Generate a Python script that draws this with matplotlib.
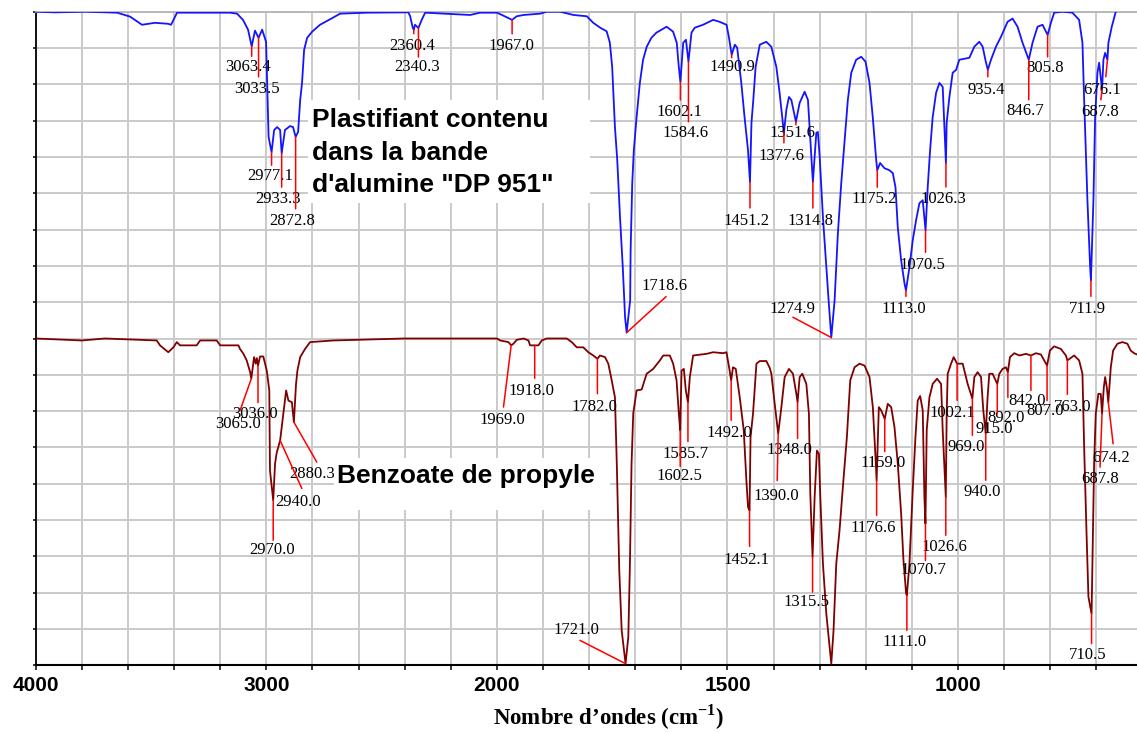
import numpy as np
import matplotlib
matplotlib.use("Agg")
import matplotlib.pyplot as plt
import matplotlib.patches as patches
from matplotlib.ticker import FixedLocator, FixedFormatter

plt.rcParams['mathtext.fontset'] = 'custom'
plt.rcParams['mathtext.rm'] = 'Liberation Serif'
plt.rcParams['mathtext.bf'] = 'Liberation Serif:bold'

# spectre du plastifiant (bande d'alumine DP 951) : nombre d'ondes, transmittance %
blue_wn = [4000, 3916, 3786, 3647, 3591, 3539, 3483, 3426, 3413, 3387, 3287, 3157, 3127, 3101, 3079,
           3063.4, 3049, 3033.5, 3018, 3001, 2990, 2977.1, 2966, 2953, 2940, 2933.3, 2919, 2897, 2884,
           2872.8, 2862, 2853, 2845, 2836, 2823, 2801, 2767, 2710, 2680, 2563, 2420, 2384, 2376, 2365,
           2360.4, 2355, 2340.3, 2326, 2311, 2116, 2073, 2000, 1989, 1967.0, 1957, 1942, 1906, 1892,
           1863, 1834, 1805, 1791, 1776, 1762, 1755, 1750, 1744, 1739, 1733, 1727, 1722, 1718.6, 1711,
           1710, 1706.5, 1703, 1697, 1690, 1683, 1675, 1665, 1654, 1643, 1632, 1618, 1610, 1605.5,
           1602.1, 1596, 1590, 1584.6, 1578, 1571, 1553, 1531, 1517, 1502, 1497, 1490.9, 1484, 1479,
           1470, 1463, 1455.5, 1451.2, 1448, 1444, 1439, 1430, 1416, 1405, 1394, 1387, 1380, 1377.6,
           1372.3, 1366.7, 1361.5, 1351.6, 1343.5, 1332.7, 1325.5, 1320.3, 1314.8, 1307.4, 1304, 1300,
           1293, 1285.7, 1280.7, 1274.9, 1267.7, 1260.6, 1253.3, 1246, 1239, 1231.6, 1221, 1210,
           1200.6, 1192, 1185, 1177.5, 1175.2, 1169, 1159.5, 1149, 1141.5, 1135.7, 1130.7, 1123.4,
           1116.2, 1113.0, 1105.4, 1098.3, 1091, 1083.8, 1076.6, 1070.5, 1065.8, 1060.6, 1055, 1047.6,
           1040.5, 1033.3, 1026.3, 1024.7, 1018.8, 1011.7, 1004.3, 997.2, 975.5, 964.7, 954, 946.7,
           939.4, 935.4, 928.6, 917.8, 907, 892.7, 881.8, 871, 860.2, 846.7, 838.5, 827.7, 816.9,
           805.8, 798.7, 791.6, 773.6, 752, 737.5, 730.3, 726.6, 719.5, 713.6, 711.9, 706.5, 702.8,
           697.8, 694.1, 687.8, 684.8, 681.1, 676.1, 674, 666.7, 658, 650]
blue_T = [100, 99.8, 100, 99.7, 98.5, 96, 96.6, 96.3, 96, 99.7, 99.7, 99.7, 99.4, 97.5, 94.5,
          89.4, 94.2, 92, 94.5, 90.8, 61.7, 57, 63.8, 64.7, 63.8, 56.7, 63.8, 65, 64.7,
          61.7, 63.2, 73, 78.2, 88.3, 92, 93.9, 96, 98.2, 99.4, 99.7, 99.8, 99.8, 98.6, 95.1,
          94.5, 96, 95, 97.5, 99.7, 99, 99.7, 99.7, 99, 97.5, 98.6, 99, 99.4, 100,
          100, 99, 98.6, 96.6, 95.1, 94, 90.5, 83.1, 64.7, 54.6, 37.1, 21.8, 6.4, 1.8, 11.7,
          27, 47.5, 57.7, 67.8, 78.2, 85.3, 89.3, 92, 93.6, 94.5, 95.4, 93.9, 90.5, 83.1,
          78.5, 90.5, 91.4, 84.7, 93.6, 95.1, 96, 97.5, 96.9, 96, 92.3, 86.8, 89.9, 89,
          78.2, 67.8, 57.7, 47.9, 66, 73, 83.1, 89.9, 90.8, 89.3, 83.1, 75.2, 66, 62.9,
          70, 73.9, 73, 66.3, 72.1, 75.5, 73, 60.7, 47.9, 62.9, 63.2, 55.5,
          37.1, 21.8, 11.7, 0.3, 11.7, 32.2, 47.5, 60.7, 73, 81.3, 85.3, 86.2,
          84.7, 78.2, 67.8, 54.6, 51.5, 53.7, 52.1, 51.5, 50.6, 46.3, 34, 23.9,
          16.9, 14.7, 21.8, 30, 36.2, 41.4, 42.3, 33.1, 46.3, 57.7, 67.8, 75.2,
          78.2, 77, 53.7, 66, 73.9, 81.3, 82.2, 85.3, 85.9, 89.3, 90.8, 89.3,
          84.4, 82.2, 85.3, 89.3, 92.3, 96.9, 97.9, 95.4, 90.5, 85.3, 90.5, 95.4, 96,
          92.9, 96.6, 99.7, 100, 99.7, 97.5, 90.5, 73, 42.3, 21.8, 17.8, 42.3, 67.8,
          81.3, 84.4, 76.1, 85.3, 87.4, 85.3, 90.5, 95.4, 100, 104]

# spectre du benzoate de propyle
brown_wn = [4000, 3800, 3700, 3475, 3461, 3425, 3403, 3388, 3374, 3302, 3287, 3215, 3200, 3121,
            3114, 3099, 3085, 3070, 3065.0, 3053, 3046, 3041, 3036.0, 3027, 3013, 2998, 2987, 2984,
            2970.0, 2962, 2955, 2940.0, 2933, 2923, 2914, 2904, 2889, 2880.3, 2871, 2865, 2853,
            2832, 2810, 2709, 2600, 2400, 2000, 1993, 1975, 1969.0, 1964, 1957, 1942, 1931.6, 1928,
            1918.0, 1910, 1902.6, 1891.8, 1848.5, 1837.7, 1826.8, 1812.6, 1801.7, 1791, 1782.0,
            1776.4, 1765.6, 1758.4, 1751, 1744, 1740, 1734.6, 1729.4, 1721.0, 1715, 1711.5, 1708,
            1704.3, 1697, 1686, 1675.3, 1661, 1646.5, 1639.4, 1625, 1617.8, 1610.4, 1605.4, 1602.5,
            1599.6, 1594.6, 1590.3, 1585.7, 1581.6, 1574.5, 1545.5, 1531, 1509.5, 1502.2, 1496.5,
            1492.0, 1488, 1482, 1473.4, 1464.7, 1459, 1455.4, 1452.1, 1450, 1444.6, 1437.2, 1430,
            1415.6, 1408.4, 1404.8, 1397.6, 1390.0, 1383.1, 1376, 1366.6, 1358, 1350.7, 1348.0,
            1343.5, 1337.7, 1329, 1323.4, 1321.9, 1320.4, 1315.5, 1311, 1306, 1301.7, 1298.7, 1293,
            1285.7, 1278.6, 1274.9, 1270, 1264.1, 1257, 1249.8, 1241.1, 1233.8, 1224.4, 1213.6,
            1202.8, 1192, 1184.8, 1179, 1176.6, 1171.8, 1166.7, 1159.0, 1152.4, 1145, 1137.9, 1130.7,
            1123.4, 1118.4, 1112.6, 1111.0, 1105.4, 1098.3, 1092.4, 1087.5, 1082.2, 1076.6, 1073,
            1070.7, 1068, 1062.1, 1055, 1045.5, 1036.8, 1033.3, 1026.6, 1024.7, 1022.5, 1015.2,
            1009.5, 1002.1, 990, 979.2, 969.0, 964.7, 957.6, 950.2, 945.3, 940.0, 936, 932.3, 925.1,
            915.0, 910.6, 903.4, 896.1, 892.0, 887.5, 878.1, 867.3, 852.8, 842.0, 831.2, 820.3,
            813.2, 807.0, 800.9, 791.6, 777.1, 766.2, 763.0, 748.3, 737.5, 730.3, 726.6, 721.6,
            717.3, 710.5, 708.7, 705, 701.4, 695.7, 690.5, 687.8, 684, 681.1, 677.5, 674.2, 668.8,
            663.8, 654.5, 643.7, 632.8, 625.6, 618.4, 610]
brown_T = [100, 99.4, 100, 99.4, 97.9, 95.8, 97.3, 98.9, 97.9, 97.9, 99.4, 99.4, 97.9, 97.9,
           96.8, 95.3, 93.3, 89.7, 87.7, 94.3, 92.3, 94, 91.7, 94.5, 94.5, 90.2, 84.1, 59.6,
           50.5, 61.7, 65, 68.8, 72.9, 79, 84.1, 81, 80.5, 74.4, 86.1, 90.2, 94.3,
           96.8, 98.9, 99.4, 99.6, 100, 100, 99.4, 98.9, 97.9, 98.4, 99.6, 100, 99.4, 97.9,
           97.9, 97.9, 99.4, 100, 100, 98.9, 97.3, 97.3, 95.8, 94.8, 93.8,
           94.8, 94.3, 92.3, 87.2, 82, 61.7, 29, 10.7, 0.5, 8.7, 31.2, 61.7,
           77.1, 84.1, 84.4, 89.2, 90.7, 93.3, 94.8, 94.8, 92.3, 87.2, 77, 71.9,
           90.2, 90.7, 84.1, 80.5, 88.2, 94.8, 95.3, 95.8, 95.5, 95.8, 91.2,
           87.2, 91.2, 90.7, 82, 71.9, 56.6, 48.4, 47.4, 69.8, 77, 92.3, 93.1,
           93.1, 91, 89.2, 80, 70.9, 79, 88.2, 90.7, 89.2, 83.1, 80.5,
           88.2, 89.2, 86.1, 77, 63.7, 52.5, 33.1, 51.5, 65.7, 64.7, 51.5, 31.1,
           15.8, 5.6, 0.5, 10.7, 31.1, 41.3, 54.5, 69.8, 87.2, 91.2, 92.3,
           91.7, 88.2, 79, 63.7, 56.6, 79, 78, 75.4, 80, 79, 72.9, 61.7,
           46.4, 32.1, 21.9, 21.4, 31.1, 53.5, 69.8, 81, 82.4, 78, 51.5,
           43.3, 71.9, 82, 86.1, 87.7, 86.1, 71.9, 51.5, 77, 89.2, 92.3,
           94.3, 92.3, 92.3, 86.1, 81.6, 88.2, 89.7, 88.2, 78, 70.9, 82, 89.2, 89.2,
           86.1, 89.2, 90.7, 91.2, 89.7, 94.3, 95.5, 94.8, 95.3, 94.8, 95.5, 95.1,
           93.3, 91.7, 96.3, 97.6, 96.8, 94.8, 93.3, 94.8, 93.3, 89.2, 66.8, 41.3,
           20.9, 15.8, 31.1, 61.7, 77, 83.1, 83, 77, 85, 88.2, 85.1, 80.5, 91.2,
           96.3, 98.4, 98.9, 98.4, 96.3, 95.5, 95]

# pics annotés : valeur, trait (dx, dy), texte (dx, dy) en pixels depuis le sommet du pic
blue_peaks = [3063.4, 3033.5, 2977.1, 2933.3, 2872.8, 2360.4, 2340.3, 1967.0, 1718.6, 1602.1,
              1584.6, 1490.9, 1451.2, 1377.6, 1351.6, 1314.8, 1274.9, 1175.2, 1113.0, 1070.5,
              1026.3, 935.4, 846.7, 805.8, 711.9, 687.8, 676.1]
blue_offsets = [(0, -10, -4, -21), (0, -39, -1.5, -51), (0, -13, -1.5, -24), (0, -34, -3.6, -46),
                (0, -72, -3.5, -84), (0, -4, -2, -16), (0, -29, -1, -38.5), (0, -14, -1, -26),
                (39.4, 36, 37.7, 47), (0, -18, -1, -30), (0, -60, -2.6, -71), (0, -3, 1, -12.5),
                (0, -26, -3.5, -39), (0, -10, -2.5, -23), (0, -3, -3, -11.3), (0, -26, -2.6, -39),
                (-38.4, 20.3, -38.4, 28.7), (0, -17, -2.8, -29.3), (0, -6, -2.2, -18.3),
                (0, -22, -2.8, -35), (0, -24, -2.2, -36.3), (0, -7, -1.8, -20), (0, -40, -3.8, -51.7),
                (0, -22, -2.7, -33.3), (0, -16, -3.5, -28.3), (-1.2, -10, -2.2, -22.3),
                (-1.6, -17, -5, -30)]

brown_peaks = [3065.0, 3036.0, 2970.0, 2940.0, 2880.3, 1969.0, 1918.0, 1782.0, 1721.0, 1602.5,
               1585.7, 1492.0, 1452.1, 1390.0, 1348.0, 1315.5, 1176.6, 1159.0, 1111.0, 1070.7,
               1026.6, 1002.1, 969.0, 940.0, 915.0, 892.0, 842.0, 807.0, 763.0, 710.5, 687.8, 674.2]
brown_offsets = [(-11.2, -31.7, -13, -45.7), (0, -37, -3, -48.7), (0, -40, -1.4, -50),
                 (21.7, -48, 18.3, -61.7), (22.9, -40, 17.9, -51.6), (-7.7, -61.7, -8.7, -75),
                 (0, -33, -3, -46), (0, -35, -3, -48.4), (-45.6, 23.3, -49, 33.3), (0, -36, -1, -45.7),
                 (0, -39.3, -2, -51.6), (0, -40, -2, -52.3), (0, -36, -3, -50), (-1, -47, -1.8, -62.4),
                 (0, -36.3, -8, -47.3), (0, -35, -6.2, -45), (0, -35, -3.8, -47.7), (0, -32.7, -2, -44),
                 (0, -35, -2.4, -46.7), (0, -36.7, -2, -46.7), (0, -38.3, -1.4, -50), (0, -36.7, -5, -49),
                 (0, -36.7, -6.3, -48.4), (0, -46.7, -3.7, -58.4), (0, -30, -3, -45), (0, -25.3, -2, -46),
                 (0, -35, -4, -45.7), (0, -35, -2, -45), (0, -34, 5, -46.7), (0, -30, -4, -41.7),
                 (-2, -53.4, -2.2, -65), (4.8, -41.6, 2.5, -55.6)]

tick_pos = [4000, 3800, 3600, 3400, 3200, 3000, 2800, 2600, 2400, 2200, 2000, 1900, 1800, 1700,
            1600, 1500, 1400, 1300, 1200, 1100, 1000, 900, 800, 700]
tick_labels = {4000: '4000', 3000: '3000', 2000: '2000', 1500: '1500', 1000: '1000'}

W, H = 1137, 733


def fwd(w):
    # échelle dilatée d'un facteur 2 en dessous de 2000 cm-1
    w = np.asarray(w, dtype=float)
    return np.where(w > 2000, 2000 + (w - 2000) / 2.0, w)


def inv(u):
    u = np.asarray(u, dtype=float)
    return np.where(u > 2000, 2000 + (u - 2000) * 2.0, u)


def fx(x):
    return x / W


def fy(y):
    return 1 - y / H


fig = plt.figure(figsize=(W / 100, H / 100), dpi=100)
fig.patch.set_facecolor('white')
ax = fig.add_axes([fx(35.7), fy(665.3), 1 - fx(35.7), (665.3 - 11.7) / H])

ax.set_xscale('function', functions=(fwd, inv))
ax.set_xlim(4000, 612)
ax.set_ylim(0, 18)

ax.xaxis.set_major_locator(FixedLocator(tick_pos))
ax.xaxis.set_major_formatter(FixedFormatter([tick_labels.get(t, '') for t in tick_pos]))
ax.yaxis.set_major_locator(FixedLocator(range(0, 19)))
ax.set_yticklabels([])
ax.grid(True, color='#cacaca', linewidth=1.4, zorder=0)
ax.set_axisbelow(True)

ax.tick_params(axis='x', direction='out', length=3.6, width=1.1, pad=4,
               labelsize=15, labelfontfamily='Liberation Sans')
ax.tick_params(axis='y', direction='out', length=2.5, width=1.1)
for lab in ax.get_xticklabels():
    lab.set_fontweight('bold')

ax.spines['right'].set_visible(False)
ax.spines['top'].set_color('#b4b4b4')
ax.spines['top'].set_linewidth(1.3)
ax.spines['left'].set_linewidth(1.3)
ax.spines['bottom'].set_linewidth(1.5)

# les deux spectres empilés : plastifiant en haut, benzoate en bas
blue_y = 9 + 0.09 * np.array(blue_T)
brown_y = 0.09 * np.array(brown_T)
ax.plot(blue_wn, blue_y, color='#1414ff', lw=1.3, zorder=3, clip_on=True)
ax.plot(brown_wn, brown_y, color='#800000', lw=1.3, zorder=3)


def label_peaks(peaks, offsets, wn, yv):
    wn_r = np.array(wn)[::-1]
    y_r = np.array(yv)[::-1]
    for p, (ldx, ldy, tdx, tdy) in zip(peaks, offsets):
        tip = np.interp(p, wn_r, y_r)
        ax.annotate(f'{p:.1f}', xy=(p, tip), xytext=(tdx, tdy), textcoords='offset pixels',
                    ha='center', va='center', fontsize=12, family='Liberation Serif',
                    color='black', zorder=4)
        ax.annotate('', xy=(p, tip), xytext=(ldx, ldy), textcoords='offset pixels',
                    arrowprops=dict(arrowstyle='-', color='#ff0000', lw=1.1,
                                    shrinkA=0, shrinkB=0), zorder=5)


label_peaks(blue_peaks, blue_offsets, blue_wn, blue_y)
label_peaks(brown_peaks, brown_offsets, brown_wn, brown_y)

# encadrés blancs avec le nom des échantillons
fig.add_artist(patches.Rectangle((fx(308), fy(203)), fx(590) - fx(308), fy(100) - fy(203),
                                 transform=fig.transFigure, facecolor='white', edgecolor='none',
                                 zorder=5))
fig.add_artist(patches.Rectangle((fx(334), fy(510)), fx(610) - fx(334), fy(458) - fy(510),
                                 transform=fig.transFigure, facecolor='white', edgecolor='none',
                                 zorder=5))
for line, base in zip(['Plastifiant contenu', 'dans la bande', "d'alumine \"DP 951\""],
                      [126.7, 159.5, 192]):
    fig.text(fx(311.7), fy(base), line, ha='left', va='baseline', fontsize=19,
             fontweight='bold', family='Liberation Sans', zorder=6)
fig.text(fx(336.7), fy(483), 'Benzoate de propyle', ha='left', va='baseline', fontsize=19,
         fontweight='bold', family='Liberation Sans', zorder=6)

fig.text(fx(609), fy(717), 'Nombre d’ondes (cm$^{\\mathbf{-1}}$)', ha='center', va='center',
         fontsize=16.5, fontweight='bold', family='Liberation Serif')

fig.savefig('out.png', dpi=100)
